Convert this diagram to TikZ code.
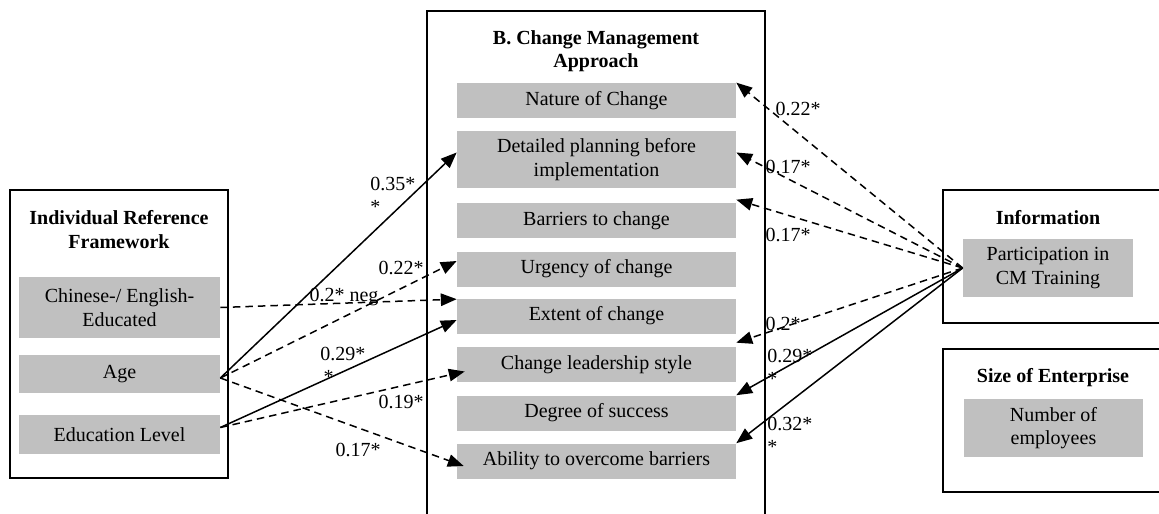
\documentclass[tikz,border=0pt]{standalone}
\usepackage{fontspec}
\setmainfont{Liberation Serif}
\usepackage{xcolor}
\usetikzlibrary{arrows.meta,calc}
\definecolor{boxgray}{RGB}{192,192,192}

\begin{document}
\begin{tikzpicture}[x=0.6pt,y=0.6pt,yscale=-1,xscale=1,
  font=\fontsize{12}{14}\selectfont,
  frame/.style={line width=1.3pt},
  item/.style={fill=boxgray, inner sep=0pt, align=center, minimum width=167.4pt, minimum height=21pt},
  heading/.style={inner sep=0pt, align=center, font=\fontsize{12}{14}\selectfont\bfseries},
  coef/.style={inner sep=0pt, align=left},
  link/.style={line width=0.9pt, -{Triangle[length=9.5pt,width=7.5pt]}},
  dlink/.style={link, dash pattern={on 4.5pt off 3pt}}]
\useasboundingbox (0,0) rectangle (1159,514);
\clip (0,0) rectangle (1159,514);

%Shape: Rectangle
\draw [frame] (10,190) rectangle (228,478);
%Shape: Rectangle
\draw [frame] (427,11) rectangle (765,530);
%Shape: Rectangle
\draw [frame] (943,190) rectangle (1170,323);
%Shape: Rectangle
\draw [frame] (943,349) rectangle (1170,492);

% Text Node
\node [heading] (irftitle) at (119,229.5) {Individual Reference\\Framework};
\node [item, minimum width=120.6pt, minimum height=36.6pt] (chinese) at (119.5,307.5) {Chinese-/ English-\\Educated};
\node [item, minimum width=120.6pt, minimum height=22.8pt] (age) at (119.5,374) {Age};
\node [item, minimum width=120.6pt, minimum height=23.4pt] (edu) at (119.5,434.5) {Education Level};

% Text Node
\node [heading] (cmtitle) at (596,51.5) {B. Change Management\\Approach};
\node [item] (nature) at (596.5,100.5) {Nature of Change};
\node [item, minimum height=34.2pt] (detail) at (596.5,159.5) {Detailed planning before\\implementation};
\node [item] (barrier) at (596.5,220.5) {Barriers to change};
\node [item] (urgency) at (596.5,269) {Urgency of change};
\node [item] (extent) at (596.5,316) {Extent of change};
\node [item] (leader) at (596.5,364.5) {Change leadership style};
\node [item] (degree) at (596.5,413) {Degree of success};
\node [item] (ability) at (596.5,461) {Ability to overcome barriers};

% Text Node
\node [heading] (infotitle) at (1048,218) {Information};
\node [item, minimum width=102pt, minimum height=34.8pt] (train) at (1048,268) {Participation in\\CM Training};
\node [heading] (sizetitle) at (1053,378) {Size of Enterprise};
\node [item, minimum width=107.4pt, minimum height=34.8pt] (staff) at (1053.5,428) {Number of\\employees};

\coordinate (agept) at ($(age.east)+(0,4)$);
\coordinate (edupt) at ($(edu.east)+(0,-7)$);

%Straight Lines
\draw [link] (agept) -- ($(detail.west)+(0,-7)$);
\draw [dlink] (agept) -- ($(urgency.west)+(0,-8)$);
\draw [dlink] (chinese.east) -- ($(extent.north west)+(0,1)$);
\draw [link] (edupt) -- ($(extent.west)+(0,4)$);
\draw [dlink] (edupt) -- ($(leader.west)+(8,7)$);
\draw [dlink] (agept) -- ($(ability.west)+(7,5)$);

%Straight Lines
\draw [dlink] (train.west) -- (nature.north east);
\draw [dlink] (train.west) -- ($(detail.east)+(0,-7)$);
\draw [dlink] (train.west) -- ($(barrier.north east)+(0,-3)$);
\draw [dlink] (train.west) -- ($(leader.north east)+(0,-4)$);
\draw [link] (train.west) -- (degree.north east);
\draw [link] (train.west) -- (ability.north east);

% Text Node
\node [coef, anchor=north west] (c35) at (370,177) {0.35*\\*};
\node [coef] (c22a) at (401,268) {0.22*};
\node [coef] (c2neg) at (344,297) {0.2* neg};
\node [coef, anchor=north west] (c29a) at (320,347) {0.29*\\\,*};
\node [coef] (c19) at (401,402) {0.19*};
\node [coef] (c17a) at (358,450) {0.17*};
% Text Node
\node [coef] (c22b) at (798,109) {0.22*};
\node [coef] (c17b) at (788,167) {0.17*};
\node [coef] (c17c) at (788,235) {0.17*};
\node [coef] (c2) at (783,324) {0.2*};
\node [coef, anchor=north west] (c29b) at (767,349) {0.29*\\*};
\node [coef, anchor=north west] (c32) at (767,417) {0.32*\\*};

\end{tikzpicture}
\end{document}
